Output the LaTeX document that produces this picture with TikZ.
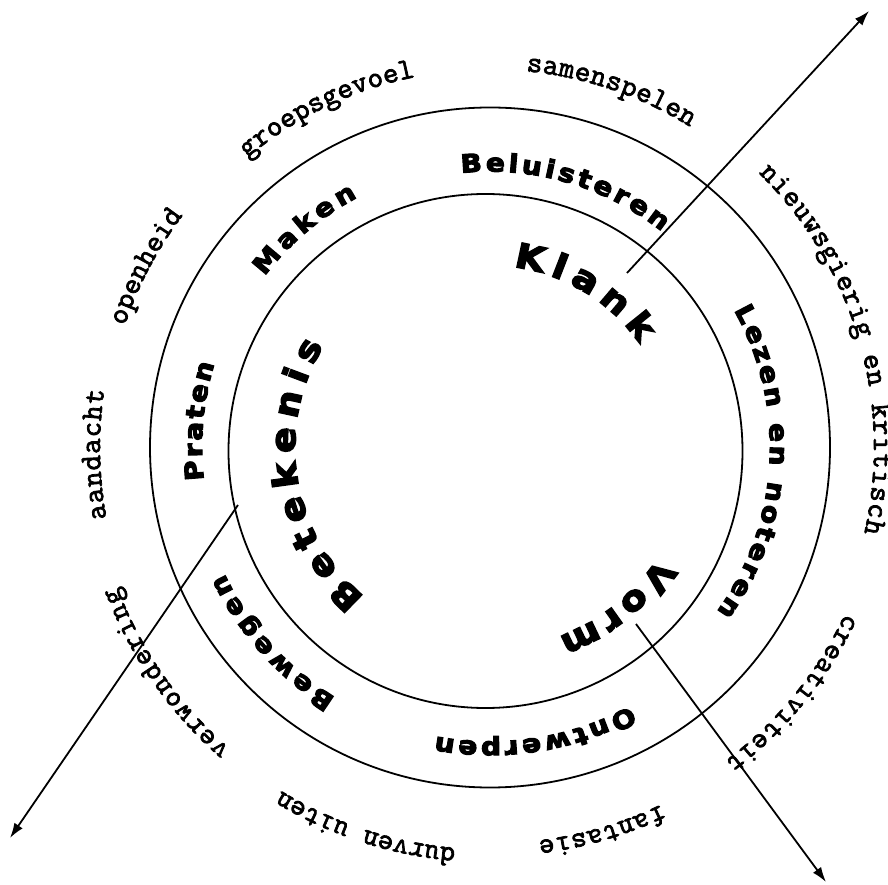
\documentclass[tikz,border=0pt]{standalone}
\usepackage{fontspec}
\usetikzlibrary{decorations.text,arrows.meta}
\newfontfamily\heavyfont{DejaVu Sans Bold}[FakeBold=4.5,FakeStretch=1.12]
\newfontfamily\courfont{Latin Modern Mono}[FakeBold=2.5]
\newcommand\ringfont{\heavyfont\fontsize{25}{25}\selectfont}
\newcommand\corefont{\heavyfont\fontsize{34}{34}\selectfont}
\newcommand\outfont{\courfont\fontsize{30}{30}\selectfont}
% #1 radius, #2 start angle, #3 end angle, #4 font, #5 text
\newcommand\arctext[5]{%
  \path[decorate,decoration={text along path,text align={fit to path},
    text={|#4|#5}}] (O) ++(#2:#1) arc[start angle=#2,end angle=#3,radius=#1];}
\begin{document}
\begin{tikzpicture}[x=1pt,y=1pt,
  ring/.style={line width=1.8pt},
  axis/.style={line width=1.8pt,-{Latex[length=15pt,width=10pt]}}]
\useasboundingbox (0,0) rectangle (888,884);
\coordinate (O) at (490,436.5);
\coordinate (Oi) at (485.5,433);
\draw[ring] (O) circle[radius=340];
\draw[ring] (Oi) circle[radius=257];
% axes
\coordinate (a1s) at (627,611);
\coordinate (a1e) at (869,873);
\coordinate (a2s) at (238,379);
\coordinate (a2e) at (10,46);
\coordinate (a3s) at (636,260);
\coordinate (a3e) at (826,2);
\draw[axis] (a1s) -- (a1e);
\draw[axis] (a2s) -- (a2e);
\draw[axis] (a3s) -- (a3e);
% ring labels
\arctext{276}{96}{51.5}{\ringfont}{Beluisteren}
\arctext{283}{142.8}{117.9}{\ringfont}{Maken}
\arctext{288}{186.5}{163.1}{\ringfont}{Praten}
\arctext{294}{238.3}{205.4}{\ringfont}{Bewegen}
\arctext{294}{298.5}{259.4}{\ringfont}{Ontwerpen}
\arctext{280}{29.4}{-35.9}{\ringfont}{Lezen en noteren}
% core labels
\arctext{182}{82.6}{34.8}{\corefont}{Klank}
\arctext{201}{326.8}{289.9}{\corefont}{Vorm}
\arctext{195}{230}{148.6}{\corefont}{Betekenis}
% outer labels
\arctext{378}{84.5}{58}{\outfont}{samenspelen}
\arctext{378}{130}{101.4}{\outfont}{groepsgevoel}
\arctext{385}{161.6}{142.9}{\outfont}{openheid}
\arctext{390}{190.5}{171.5}{\outfont}{aandacht}
\arctext{398}{229.2}{200.5}{\outfont}{verwondering}
\arctext{402}{265.1}{238.8}{\outfont}{durven uiten}
\arctext{396}{295.5}{277}{\outfont}{fantasie}
\arctext{392}{335}{306.8}{\outfont}{creativiteit}
\arctext{384}{45.6}{-12.9}{\outfont}{nieuwsgierig en kritisch}
\end{tikzpicture}
\end{document}
